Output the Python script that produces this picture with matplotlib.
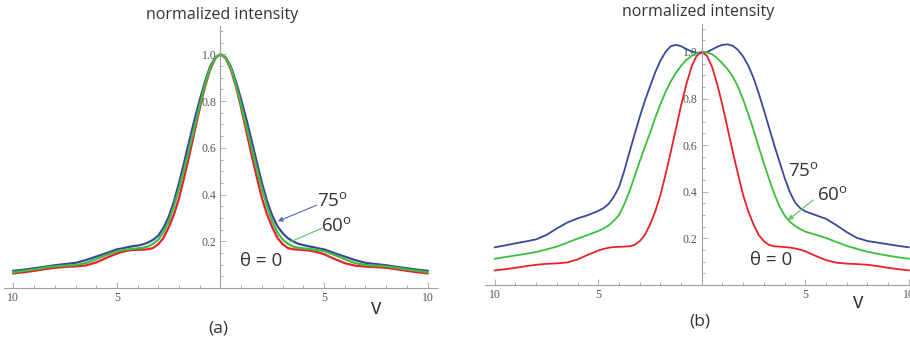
import numpy as np
import matplotlib.pyplot as plt

plt.rcParams['font.family'] = ['Open Sans', 'DejaVu Sans']
plt.rcParams['mathtext.fontset'] = 'custom'
plt.rcParams['mathtext.rm'] = 'Open Sans'

# sample positions (v)
v = [-10, -9.5, -9, -8.5, -8, -7.5, -7, -6.5, -6, -5.5,
     -5, -4.75, -4.5, -4.25, -4, -3.75, -3.5, -3.25, -3, -2.75,
     -2.5, -2.25, -2, -1.75, -1.5, -1.25, -1, -0.75, -0.5, -0.25,
     0,
     0.25, 0.5, 0.75, 1, 1.25, 1.5, 1.75, 2, 2.25, 2.5,
     2.75, 3, 3.25, 3.5, 3.75, 4, 4.25, 4.5, 4.75, 5,
     5.5, 6, 6.5, 7, 7.5, 8, 8.5, 9, 9.5, 10]

# theta = 0 (same curve in both panels)
red = [0.063, 0.068, 0.074, 0.081, 0.087, 0.091, 0.093, 0.097, 0.110, 0.130,
       0.148, 0.155, 0.160, 0.163, 0.164, 0.165, 0.166, 0.172, 0.188, 0.215,
       0.260, 0.315, 0.385, 0.475, 0.570, 0.670, 0.770, 0.860, 0.935, 0.983,
       1.000,
       0.983, 0.935, 0.860, 0.770, 0.670, 0.570, 0.475, 0.385, 0.315, 0.260,
       0.215, 0.188, 0.172, 0.166, 0.165, 0.163, 0.161, 0.157, 0.152, 0.145,
       0.125, 0.107, 0.096, 0.092, 0.090, 0.087, 0.081, 0.074, 0.068, 0.063]

# panel (a)
green_a = [0.068, 0.074, 0.080, 0.087, 0.093, 0.096, 0.099, 0.107, 0.124, 0.142,
           0.158, 0.162, 0.165, 0.168, 0.170, 0.173, 0.178, 0.190, 0.208, 0.238,
           0.285, 0.350, 0.425, 0.510, 0.600, 0.690, 0.782, 0.868, 0.943, 0.985,
           1.000,
           0.985, 0.943, 0.868, 0.782, 0.690, 0.600, 0.510, 0.425, 0.350, 0.285,
           0.238, 0.208, 0.190, 0.178, 0.173, 0.170, 0.168, 0.165, 0.162, 0.158,
           0.142, 0.124, 0.107, 0.099, 0.096, 0.093, 0.087, 0.080, 0.074, 0.068]

blue_a = [0.074, 0.079, 0.085, 0.091, 0.098, 0.103, 0.108, 0.120, 0.135, 0.150,
          0.166, 0.170, 0.175, 0.179, 0.182, 0.187, 0.195, 0.207, 0.225, 0.258,
          0.305, 0.370, 0.450, 0.540, 0.632, 0.722, 0.805, 0.882, 0.948, 0.987,
          1.000,
          0.987, 0.948, 0.882, 0.805, 0.722, 0.632, 0.540, 0.450, 0.372, 0.310,
          0.265, 0.235, 0.214, 0.200, 0.190, 0.184, 0.179, 0.175, 0.170, 0.166,
          0.150, 0.135, 0.120, 0.108, 0.103, 0.098, 0.091, 0.085, 0.079, 0.074]

# panel (b)
green_b = [0.113, 0.120, 0.127, 0.134, 0.142, 0.153, 0.165, 0.182, 0.199, 0.215,
           0.232, 0.242, 0.256, 0.275, 0.300, 0.345, 0.400, 0.465, 0.530, 0.592,
           0.652, 0.717, 0.775, 0.828, 0.873, 0.910, 0.940, 0.965, 0.982, 0.995,
           1.000,
           0.997, 0.990, 0.972, 0.950, 0.925, 0.894, 0.850, 0.795, 0.732, 0.665,
           0.592, 0.522, 0.455, 0.392, 0.338, 0.298, 0.272, 0.254, 0.240, 0.229,
           0.216, 0.202, 0.185, 0.168, 0.155, 0.143, 0.134, 0.126, 0.119, 0.113]

blue_b = [0.162, 0.170, 0.179, 0.187, 0.196, 0.215, 0.243, 0.268, 0.286, 0.300,
          0.318, 0.330, 0.348, 0.378, 0.420, 0.488, 0.568, 0.645, 0.720, 0.790,
          0.852, 0.912, 0.962, 1.000, 1.024, 1.030, 1.024, 1.012, 1.002, 0.996,
          0.995,
          0.999, 1.010, 1.022, 1.030, 1.032, 1.026, 1.008, 0.980, 0.940, 0.888,
          0.822, 0.750, 0.675, 0.600, 0.530, 0.460, 0.400, 0.355, 0.330, 0.316,
          0.300, 0.284, 0.257, 0.227, 0.202, 0.189, 0.182, 0.175, 0.168, 0.162]

x_major = [-10, -5, 5, 10]
x_labels = ['10', '5', '5', '10']
y_major = [0.2, 0.4, 0.6, 0.8, 1.0]
y_labels = ['0.2', '0.4', '0.6', '0.8', '1.0']

RED = '#e8212b'
GREEN = '#3cbf3c'
BLUE = '#38489c'
AXC = '#a0a0a0'
TXT = '#333333'

fig = plt.figure(figsize=(9.1, 3.41), dpi=100)
ax_a = fig.add_axes([0.004, 0.155, 0.4766, 0.768])
ax_b = fig.add_axes([0.533, 0.164, 0.4764, 0.766])


def style_axes(ax):
    for s in ['top', 'right']:
        ax.spines[s].set_visible(False)
    for s in ['left', 'bottom']:
        ax.spines[s].set_position(('data', 0))
        ax.spines[s].set_color(AXC)
        ax.spines[s].set_linewidth(0.8)
    ax.set_xlim(-10.47, 10.47)
    ax.set_ylim(0, 1.12)
    ax.set_xticks(x_major)
    ax.set_xticklabels(x_labels)
    ax.set_xticks(np.arange(-10, 11, 1), minor=True)
    ax.set_yticks(y_major)
    ax.set_yticklabels(y_labels)
    ax.set_yticks(np.arange(0.05, 1.11, 0.05), minor=True)
    ax.tick_params(which='both', direction='in', color=AXC, width=0.6,
                   labelsize=8.5, labelcolor='#555555', pad=3)
    ax.tick_params(which='major', length=4)
    ax.tick_params(which='minor', length=2.2)
    for lab in ax.get_xticklabels() + ax.get_yticklabels():
        lab.set_family('Liberation Serif')
    ax.patch.set_alpha(0)


style_axes(ax_a)
style_axes(ax_b)

# panel (a)
ax_a.plot(v, blue_a, color=BLUE, lw=1.6)
ax_a.plot(v, red, color=RED, lw=1.6)
ax_a.plot(v, green_a, color=GREEN, lw=1.6)

# panel (b)
ax_b.plot(v, blue_b, color=BLUE, lw=1.3)
ax_b.plot(v, green_b, color=GREEN, lw=1.3)
ax_b.plot(v, red, color=RED, lw=1.3)

tk = dict(color=TXT, fontsize=13.5, va='center', ha='left')

# annotations (a)
ax_a.text(4.65, 0.37, r'75$^{\mathrm{o}}$', **tk)
ax_a.text(4.85, 0.265, r'60$^{\mathrm{o}}$', **tk)
ax_a.text(0.94, 0.115, '\u03b8 = 0', **tk)
ax_a.annotate('', xy=(2.77, 0.286), xytext=(4.65, 0.355),
              arrowprops=dict(arrowstyle='-|>', color='#5a68b0', lw=0.8,
                              mutation_scale=7, shrinkA=0, shrinkB=0))
ax_a.annotate('', xy=(3.35, 0.197), xytext=(4.89, 0.256),
              arrowprops=dict(arrowstyle='-', color='#55c855', lw=0.8,
                              shrinkA=0, shrinkB=0))

# annotations (b)
ax_b.text(4.17, 0.485, r'75$^{\mathrm{o}}$', **tk)
ax_b.text(5.55, 0.385, r'60$^{\mathrm{o}}$', **tk)
ax_b.text(2.33, 0.107, '\u03b8 = 0', **tk)
ax_b.annotate('', xy=(4.17, 0.279), xytext=(5.38, 0.365),
              arrowprops=dict(arrowstyle='-|>', color='#55c855', lw=0.8,
                              mutation_scale=7, shrinkA=0, shrinkB=0))

# titles and axis labels
for ax, tx, vx, vy, lx, ly, lab in [(ax_a, 0.06, 7.54, -0.085, -0.12, -0.171, '(a)'),
                                   (ax_b, -0.18, 7.55, -0.073, -0.08, -0.155, '(b)')]:
    ax.text(tx, 1.17, 'normalized intensity', color=TXT, fontsize=11.5,
            ha='center', va='center', clip_on=False)
    ax.text(vx, vy, 'v', color=TXT, fontsize=15, ha='center', va='center', clip_on=False)
    ax.text(lx, ly, lab, color=TXT, fontsize=12.5, ha='center', va='center', clip_on=False)

plt.savefig('out.png', dpi=100)
